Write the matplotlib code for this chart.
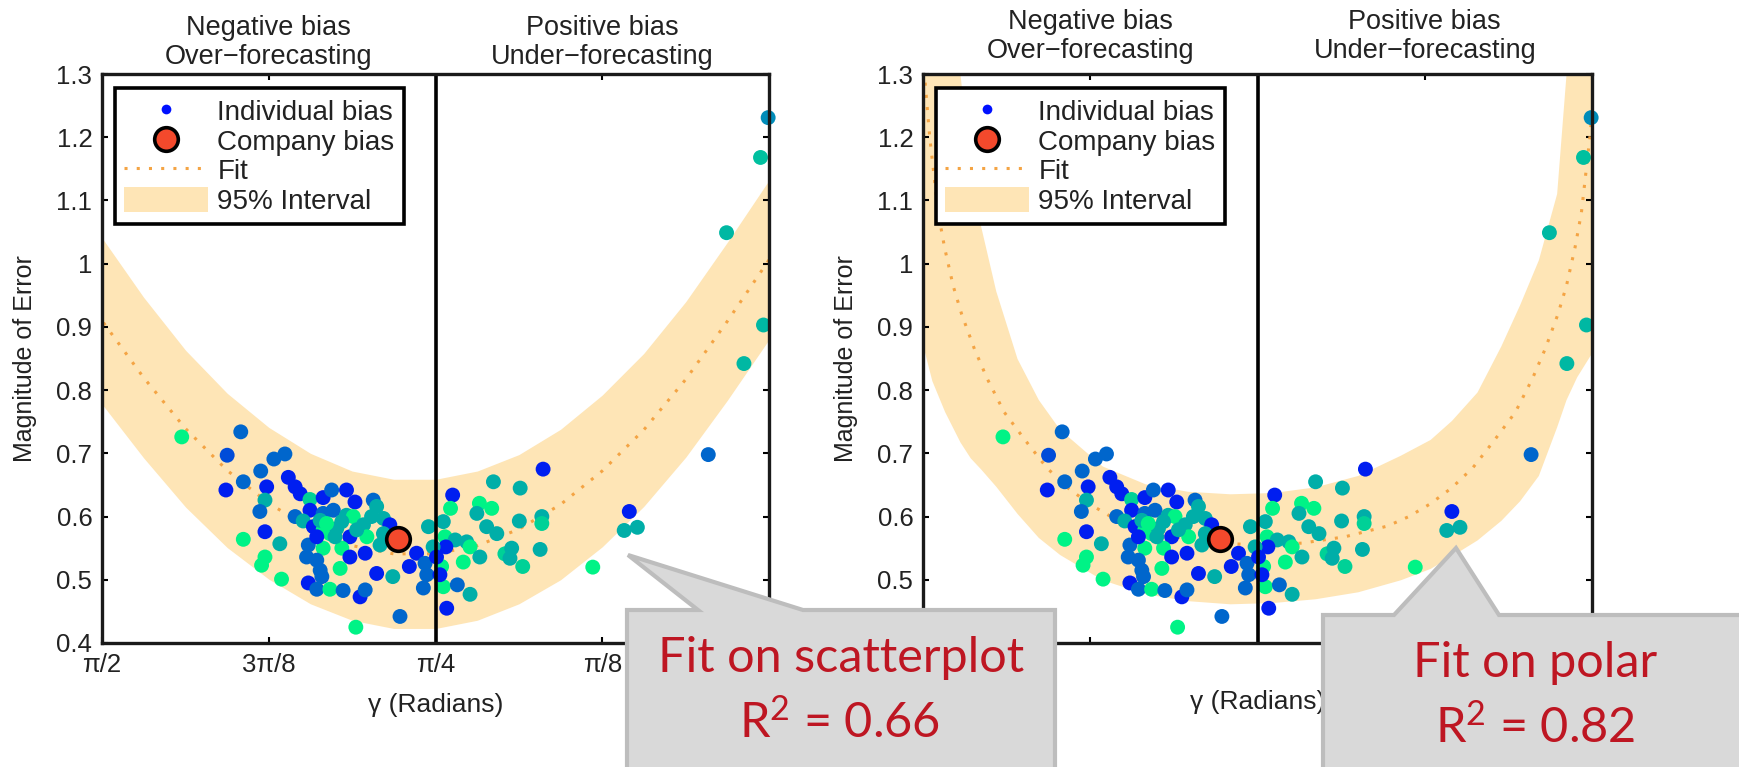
import numpy as np
import matplotlib.pyplot as plt
from matplotlib.lines import Line2D
from matplotlib.patches import Patch, Polygon

plt.rcParams['font.family'] = ['Liberation Sans', 'DejaVu Sans']
plt.rcParams['mathtext.fontset'] = 'custom'
plt.rcParams['mathtext.rm'] = 'Lato'
plt.rcParams['mathtext.it'] = 'Lato'

# individual biases: gamma (radians), magnitude of error, colour value (0 = blue .. 1 = green)
gamma = [1.383, 1.244, 1.276, 1.166, 1.140, 1.197, 1.132, 1.238, 1.279, 1.183,
         1.116, 1.104, 1.187, 1.199, 1.081, 1.050, 1.030, 0.995, 0.975, 0.932,
         0.924, 1.081, 1.116, 1.097, 1.050, 1.026, 0.995, 0.979, 0.955, 0.936,
         0.908, 0.893, 1.187, 1.238, 1.152, 1.073, 1.050, 1.034, 1.018, 0.987,
         0.947, 0.916, 1.085, 1.050, 1.006, 1.089, 1.065, 0.987, 0.951, 1.187,
         1.195, 1.057, 1.010, 1.053, 1.148, 1.085, 1.065, 1.034, 1.003, 0.963,
         0.951, 0.924, 0.886, 0.847, 0.830, 0.810, 0.806, 0.814, 0.869, 0.973,
         0.802, 0.767, 0.763, 0.767, 0.759, 0.532, 0.649, 0.586, 0.745, 0.750,
         0.682, 0.653, 0.688, 0.665, 0.641, 0.588, 0.535, 0.535, 0.739, 0.712,
         0.704, 0.761, 0.681, 0.720, 0.622, 0.606, 0.610, 0.539, 0.580, 0.771,
         0.775, 0.734, 0.704, 0.329, 0.341, 0.310, 0.415, 0.143, 0.002, 0.020,
         0.100, 0.013, 0.059, 1.057, 1.042, 1.022, 1.065, 0.971, 1.006, 0.908,
         0.791, 0.783]
magnitude = [0.726, 0.734, 0.697, 0.691, 0.699, 0.672, 0.662, 0.655, 0.642, 0.647,
             0.647, 0.636, 0.626, 0.608, 0.627, 0.630, 0.642, 0.642, 0.623, 0.626,
             0.616, 0.610, 0.600, 0.593, 0.605, 0.610, 0.602, 0.600, 0.587, 0.600,
             0.597, 0.587, 0.576, 0.564, 0.557, 0.584, 0.579, 0.573, 0.581, 0.568,
             0.568, 0.555, 0.555, 0.550, 0.550, 0.536, 0.531, 0.536, 0.542, 0.536,
             0.523, 0.515, 0.518, 0.505, 0.501, 0.495, 0.485, 0.485, 0.483, 0.473,
             0.484, 0.510, 0.505, 0.521, 0.542, 0.526, 0.508, 0.487, 0.442, 0.425,
             0.584, 0.592, 0.568, 0.489, 0.455, 0.675, 0.655, 0.645, 0.634, 0.613,
             0.621, 0.613, 0.605, 0.584, 0.573, 0.593, 0.600, 0.589, 0.563, 0.560,
             0.552, 0.552, 0.536, 0.528, 0.541, 0.550, 0.534, 0.548, 0.521, 0.521,
             0.508, 0.492, 0.477, 0.608, 0.578, 0.583, 0.520, 0.698, 1.231, 1.168,
             1.049, 0.903, 0.842, 0.594, 0.589, 0.568, 0.568, 0.579, 0.592, 0.573,
             0.552, 0.536]
shade = [0.95, 0.40, 0.30, 0.40, 0.40, 0.40, 0.12, 0.40, 0.12, 0.12,
         0.12, 0.12, 0.68, 0.40, 0.82, 0.12, 0.40, 0.12, 0.12, 0.40,
         0.68, 0.12, 0.40, 0.68, 0.40, 0.40, 0.68, 0.95, 0.68, 0.68,
         0.68, 0.12, 0.12, 0.95, 0.68, 0.12, 0.95, 0.95, 0.68, 0.12,
         0.95, 0.68, 0.40, 0.95, 0.95, 0.40, 0.40, 0.12, 0.12, 0.95,
         0.95, 0.40, 0.95, 0.40, 0.95, 0.12, 0.40, 0.95, 0.40, 0.12,
         0.40, 0.12, 0.68, 0.12, 0.12, 0.40, 0.40, 0.40, 0.40, 0.95,
         0.68, 0.68, 0.95, 0.95, 0.12, 0.12, 0.68, 0.68, 0.12, 0.95,
         0.95, 0.95, 0.68, 0.68, 0.68, 0.68, 0.68, 0.82, 0.68, 0.68,
         0.95, 0.12, 0.68, 0.95, 0.82, 0.68, 0.68, 0.68, 0.82, 0.95,
         0.12, 0.40, 0.68, 0.12, 0.68, 0.68, 0.95, 0.40, 0.55, 0.75,
         0.72, 0.72, 0.72, 0.68, 0.95, 0.68, 0.12, 0.68, 0.68, 0.68,
         0.68, 0.12]

company_gamma = 0.874
company_mag = 0.565

# fit on scatterplot with its 95% interval
scat_gamma = [0.000, 0.098, 0.196, 0.295, 0.393, 0.491, 0.589, 0.687, 0.785,
              0.884, 0.982, 1.080, 1.178, 1.276, 1.374, 1.473, 1.571]
scat_fit = [1.006, 0.909, 0.817, 0.737, 0.672, 0.619, 0.580, 0.554, 0.541,
            0.541, 0.554, 0.581, 0.621, 0.673, 0.739, 0.820, 0.910]
scat_lo = [0.880, 0.784, 0.694, 0.616, 0.552, 0.500, 0.462, 0.436, 0.423,
           0.423, 0.436, 0.462, 0.501, 0.551, 0.615, 0.693, 0.778]
scat_hi = [1.132, 1.034, 0.940, 0.858, 0.792, 0.738, 0.698, 0.672, 0.659,
           0.659, 0.672, 0.700, 0.741, 0.795, 0.863, 0.947, 1.041]

# fit on polar
polar_gamma = [0.000, 0.005, 0.015, 0.025, 0.040, 0.060, 0.080, 0.110, 0.140,
               0.180, 0.230, 0.280, 0.330, 0.380, 0.430, 0.480, 0.580, 0.680,
               0.780, 0.880, 0.980, 1.080, 1.130, 1.180, 1.230, 1.280, 1.330,
               1.380, 1.420, 1.450, 1.480, 1.500, 1.520, 1.535, 1.545, 1.555,
               1.565, 1.571]
polar_fit = [1.240, 1.200, 1.140, 1.080, 1.025, 0.965, 0.920, 0.865, 0.818,
             0.765, 0.720, 0.677, 0.645, 0.620, 0.600, 0.585, 0.568, 0.558,
             0.555, 0.558, 0.568, 0.585, 0.600, 0.620, 0.645, 0.677, 0.720,
             0.765, 0.818, 0.865, 0.920, 0.965, 1.025, 1.080, 1.140, 1.200,
             1.280, 1.340]
polar_band_gamma = [0.000, 0.036, 0.061, 0.083, 0.126, 0.170, 0.214, 0.270,
                    0.330, 0.380, 0.450, 0.550, 0.650, 0.750, 0.850, 0.950,
                    1.050, 1.150, 1.250, 1.300, 1.350, 1.400, 1.435, 1.460,
                    1.484, 1.520, 1.550, 1.571]
polar_lo = [0.860, 0.821, 0.785, 0.742, 0.665, 0.625, 0.594, 0.563, 0.538,
            0.518, 0.500, 0.481, 0.470, 0.464, 0.462, 0.467, 0.478, 0.500,
            0.540, 0.567, 0.605, 0.648, 0.675, 0.693, 0.718, 0.766, 0.815,
            0.870]
polar_hi = [1.300, 1.300, 1.300, 1.111, 1.006, 0.935, 0.870, 0.797, 0.752,
            0.722, 0.697, 0.665, 0.647, 0.638, 0.636, 0.640, 0.652, 0.680,
            0.738, 0.785, 0.850, 0.957, 1.058, 1.150, 1.300, 1.300, 1.300,
            1.300]

x_ticks = [np.pi / 2, 3 * np.pi / 8, np.pi / 4, np.pi / 8, 0]
x_labels = ['π/2', '3π/8', 'π/4', 'π/8', '']
y_ticks = [0.4, 0.5, 0.6, 0.7, 0.8, 0.9, 1.0, 1.1, 1.2, 1.3]
y_labels = ['0.4', '0.5', '0.6', '0.7', '0.8', '0.9', '1', '1.1', '1.2', '1.3']

band_color = '#fee5b6'
fit_color = '#f4a444'
text_color = '#222222'

W, H = 1739, 767
fig = plt.figure(figsize=(W / 100, H / 100), dpi=100)


def draw_panel(rect, band_g, lo, hi, fit_g, fit, left_panel, title_y):
    ax = fig.add_axes(rect)
    ax.fill_between(band_g, lo, hi, color=band_color, lw=0, zorder=1)
    ax.plot(fit_g, fit, color=fit_color, lw=2.2, ls=(0, (1, 3)), zorder=2)
    ax.scatter(gamma, magnitude, c=shade, cmap='winter', vmin=0, vmax=1,
               s=115, linewidths=0, zorder=3, clip_on=False)
    ax.axvline(np.pi / 4, color='black', lw=2.6, zorder=4)
    ax.plot([company_gamma], [company_mag], 'o', ms=17, mfc='#f4492c',
            mec='black', mew=2.6, zorder=5)

    ax.set_xlim(np.pi / 2, 0)
    ax.set_ylim(0.4, 1.3)
    ax.set_xticks(x_ticks)
    ax.set_yticks(y_ticks)
    if left_panel:
        ax.set_xticklabels(x_labels)
        ax.set_yticklabels(y_labels)
    else:
        # lower labels sit under the callout in the original
        ax.set_xticklabels([''] * len(x_ticks))
        ax.set_yticklabels([''] + y_labels[1:])
    ax.tick_params(direction='in', length=4, width=1.5, top=True, right=True,
                   labelsize=18.5, labelcolor=text_color, pad=7)
    for s in ax.spines.values():
        s.set_linewidth(2.4)
        s.set_color('#1a1a1a')
        s.set_zorder(6)

    ax.set_ylabel('Magnitude of Error', fontsize=18, color=text_color, labelpad=14)
    ax.set_xlabel('γ (Radians)', fontsize=19, color=text_color, labelpad=12)
    if not left_panel:
        ax.xaxis.set_label_coords(0.5, -0.083)

    ax.text(3 * np.pi / 8, title_y, 'Negative bias\nOver−forecasting',
            transform=ax.get_xaxis_transform(), ha='center', va='center',
            fontsize=19.5, color=text_color, linespacing=1.15)
    ax.text(np.pi / 8, title_y, 'Positive bias\nUnder−forecasting',
            transform=ax.get_xaxis_transform(), ha='center', va='center',
            fontsize=19.5, color=text_color, linespacing=1.15)

    handles = [
        Line2D([], [], ls='none', marker='o', ms=7, mfc='#0010ff', mec='none'),
        Line2D([], [], ls='none', marker='o', ms=17, mfc='#f4492c', mec='black', mew=2.6),
        Line2D([], [], color=fit_color, lw=2.2, ls=(0, (1, 3))),
        Patch(facecolor=band_color, edgecolor='none'),
    ]
    leg = ax.legend(handles, ['Individual bias', 'Company bias', 'Fit', '95% Interval'],
                    loc='upper left', bbox_to_anchor=(0.019, 0.975), borderaxespad=0,
                    fontsize=20, frameon=True, fancybox=False, framealpha=1,
                    handlelength=3.0, handleheight=1.0, handletextpad=0.35,
                    labelspacing=0.06, borderpad=0.35)
    leg.get_frame().set_edgecolor('black')
    leg.get_frame().set_linewidth(2.6)
    for t in leg.get_texts():
        t.set_color(text_color)
    leg.set_zorder(7)
    return ax


draw_panel([102 / W, 1 - 643 / H, 667 / W, 569 / H], scat_gamma, scat_lo, scat_hi,
           scat_gamma, scat_fit, True, 1.055)
draw_panel([923 / W, 1 - 643 / H, 669 / W, 569 / H], polar_band_gamma, polar_lo, polar_hi,
           polar_gamma, polar_fit, False, 1.066)


def fig_pts(pts):
    return [(x / W, 1 - y / H) for x, y in pts]


callouts = [
    ([(627, 610), (698, 610), (628, 555), (803, 610), (1055, 610), (1055, 820), (627, 820)],
     (841, 658), 'Fit on scatterplot', (839, 722), r'R$^{2}$ = 0.66'),
    ([(1323, 615), (1394, 615), (1456, 548), (1499, 615), (1780, 615), (1780, 820), (1323, 820)],
     (1535, 663), 'Fit on polar', (1535, 727), r'R$^{2}$ = 0.82'),
]
for pts, p1, t1, p2, t2 in callouts:
    fig.add_artist(Polygon(fig_pts(pts), closed=True, transform=fig.transFigure,
                           facecolor='#d9d9d9', edgecolor='#bdbdbd', lw=3, zorder=20))
    for (x, y), t in [(p1, t1), (p2, t2)]:
        fig.text(x / W, 1 - y / H, t, ha='center', va='center', fontsize=35,
                 color='#be1622', family=['Lato', 'DejaVu Sans'], zorder=21)

fig.savefig('out.png', dpi=100)
